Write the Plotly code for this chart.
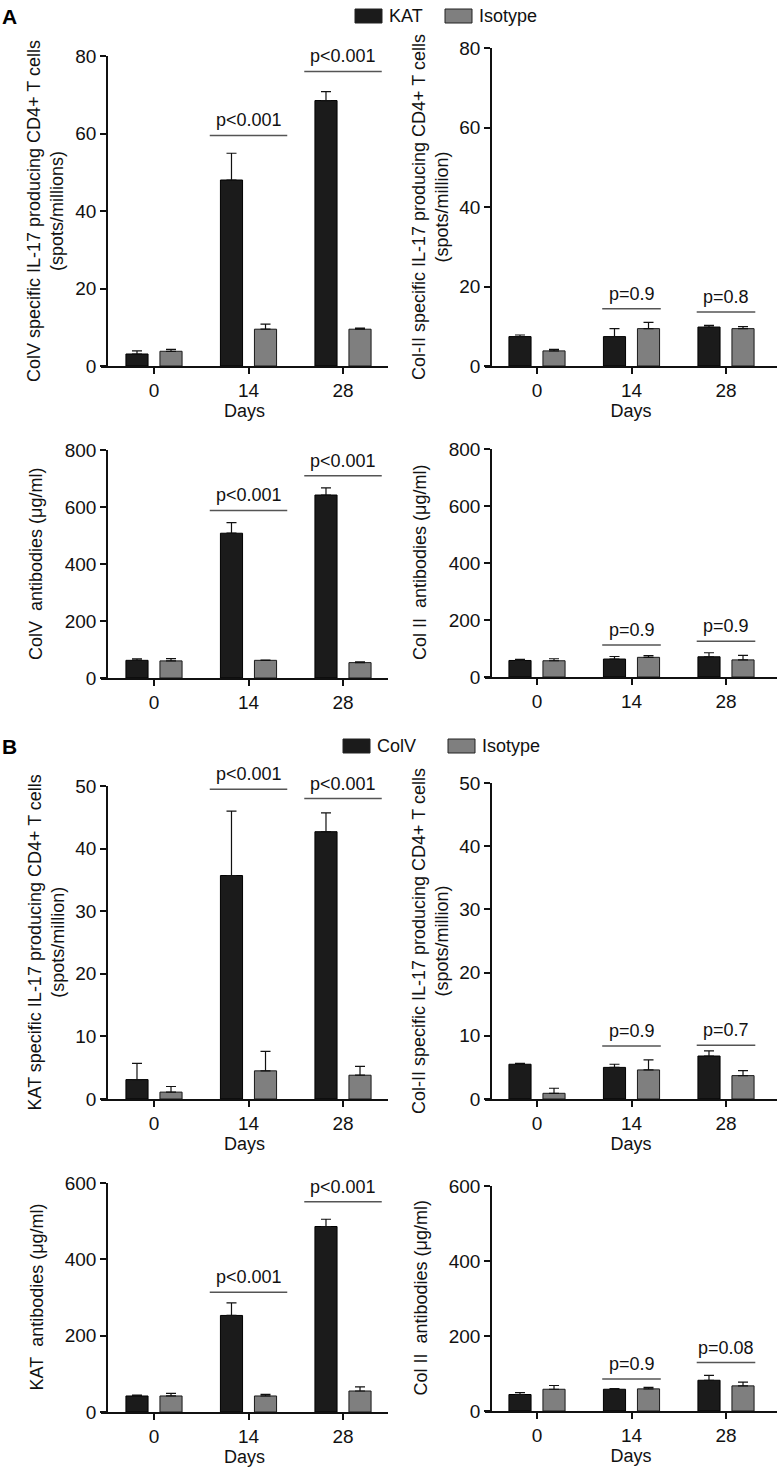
import plotly.graph_objects as go

W, H = 777, 1471
FONT = "Liberation Sans, Arial, Helvetica, sans-serif"

days = ["0", "14", "28"]

# ---------------- Panel A (KAT vs Isotype) ----------------
a1_kat = [3.1, 48.0, 68.5]
a1_kat_err = [0.8, 6.9, 2.3]
a1_iso = [3.8, 9.5, 9.5]
a1_iso_err = [0.5, 1.3, 0.3]

a2_kat = [7.4, 7.4, 9.8]
a2_kat_err = [0.4, 2.0, 0.4]
a2_iso = [3.8, 9.4, 9.4]
a2_iso_err = [0.4, 1.6, 0.5]

a3_kat = [62, 508, 642]
a3_kat_err = [5, 37, 25]
a3_iso = [60, 62, 54]
a3_iso_err = [8, 1, 3]

a4_kat = [58, 63, 71]
a4_kat_err = [4, 9, 14]
a4_iso = [57, 69, 60]
a4_iso_err = [7, 6, 16]

# ---------------- Panel B (ColV vs Isotype) ----------------
b1_colv = [3.1, 35.7, 42.7]
b1_colv_err = [2.6, 10.3, 3.0]
b1_iso = [1.1, 4.5, 3.8]
b1_iso_err = [0.9, 3.1, 1.4]

b2_colv = [5.5, 5.0, 6.8]
b2_colv_err = [0.15, 0.5, 0.8]
b2_iso = [0.9, 4.6, 3.7]
b2_iso_err = [0.8, 1.6, 0.8]

b3_colv = [42, 253, 486]
b3_colv_err = [2, 33, 19]
b3_iso = [42, 42, 55]
b3_iso_err = [7, 4, 11]

b4_colv = [44, 58, 82]
b4_colv_err = [5, 2, 13]
b4_iso = [58, 59, 67]
b4_iso_err = [10, 4, 10]

# p-value labels (None = no comparison drawn) and bracket levels (data units)
p_a1 = [None, "p<0.001", "p<0.001"]; br_a1 = [None, 59.5, 76]
p_a2 = [None, "p=0.9", "p=0.8"];     br_a2 = [None, 14.4, 13.6]
p_a3 = [None, "p<0.001", "p<0.001"]; br_a3 = [None, 588, 710]
p_a4 = [None, "p=0.9", "p=0.9"];     br_a4 = [None, 112, 125]
p_b1 = [None, "p<0.001", "p<0.001"]; br_b1 = [None, 49.5, 48]
p_b2 = [None, "p=0.9", "p=0.7"];     br_b2 = [None, 8.4, 8.5]
p_b3 = [None, "p<0.001", "p<0.001"]; br_b3 = [None, 314, 551]
p_b4 = [None, "p=0.9", "p=0.08"];    br_b4 = [None, 85, 129]

legend_a = ["KAT", "Isotype"]
legend_b = ["ColV", "Isotype"]

y_titles = [
    "ColV specific IL-17 producing CD4+ T cells<br>(spots/millions)",
    "Col-II specific IL-17 producing CD4+ T cells<br>(spots/million)",
    "ColV\u00a0 antibodies (\u03bcg/ml)",
    "Col II\u00a0 antibodies (\u03bcg/ml)",
    "KAT specific IL-17 producing CD4+ T cells<br>(spots/million)",
    "Col-II specific IL-17 producing CD4+ T cells<br>(spots/million)",
    "KAT\u00a0 antibodies (\u03bcg/ml)",
    "Col II\u00a0 antibodies (\u03bcg/ml)",
]
y_max = [80, 80, 800, 800, 50, 50, 600, 600]
y_step = [20, 20, 200, 200, 10, 10, 200, 200]
show_days = [True, True, False, False, True, True, True, True]

BLACK = "#1b1b1b"
GRAY = "#7f7f7f"

panels = [
    (legend_a, a1_kat, a1_kat_err, a1_iso, a1_iso_err, p_a1, br_a1),
    (legend_a, a2_kat, a2_kat_err, a2_iso, a2_iso_err, p_a2, br_a2),
    (legend_a, a3_kat, a3_kat_err, a3_iso, a3_iso_err, p_a3, br_a3),
    (legend_a, a4_kat, a4_kat_err, a4_iso, a4_iso_err, p_a4, br_a4),
    (legend_b, b1_colv, b1_colv_err, b1_iso, b1_iso_err, p_b1, br_b1),
    (legend_b, b2_colv, b2_colv_err, b2_iso, b2_iso_err, p_b2, br_b2),
    (legend_b, b3_colv, b3_colv_err, b3_iso, b3_iso_err, p_b3, br_b3),
    (legend_b, b4_colv, b4_colv_err, b4_iso, b4_iso_err, p_b4, br_b4),
]

# layout geometry in pixels: (x_left, x_right, y_axis_x, y_top, y_bottom)
geom = [
    (101, 388, 107, 56, 366),
    (485, 777, 491, 48, 366),
    (101, 388, 107, 450, 678),
    (485, 777, 491, 449, 677),
    (101, 388, 107, 786, 1099),
    (485, 777, 491, 783, 1099),
    (101, 388, 107, 1183, 1412),
    (485, 777, 491, 1186, 1411),
]
left_tick_px, right_tick_px, cat_px = 154, 537, 94.5


def px(x):
    return x / W


def py(y):
    return 1 - y / H


fig = go.Figure()
layout = {}
shapes = []
annotations = []
TXT = dict(color="#111", family=FONT)

for i, (names, kv, ke, iv, ie, plab, blev) in enumerate(panels):
    n = i + 1
    xa = "x" if n == 1 else f"x{n}"
    ya = "y" if n == 1 else f"y{n}"
    fig.add_trace(go.Bar(
        x=days, y=kv, name=names[0], xaxis=xa, yaxis=ya, showlegend=False,
        offsetgroup="a",
        marker=dict(color=BLACK, line=dict(color="#000000", width=1)),
        error_y=dict(type="data", symmetric=False, array=ke, arrayminus=[0, 0, 0],
                     color="#111111", thickness=1.2, width=5),
    ))
    fig.add_trace(go.Bar(
        x=days, y=iv, name=names[1], xaxis=xa, yaxis=ya, showlegend=False,
        offsetgroup="b",
        marker=dict(color=GRAY, line=dict(color="#1a1a1a", width=1)),
        error_y=dict(type="data", symmetric=False, array=ie, arrayminus=[0, 0, 0],
                     color="#111111", thickness=1.2, width=5),
    ))
    xl, xr, yx, yt, yb = geom[i]
    left_col = xl < 300
    tick0 = left_tick_px if left_col else right_tick_px
    r0 = -(tick0 - xl) / cat_px
    r1 = (xr - tick0) / cat_px
    kx = "xaxis" if n == 1 else f"xaxis{n}"
    ky = "yaxis" if n == 1 else f"yaxis{n}"
    layout[kx] = dict(
        domain=[px(xl), px(xr)], anchor=ya, type="category", range=[r0, r1],
        automargin=False,
        showline=True, linecolor="#111", linewidth=1.5, ticks="outside",
        ticklen=6, tickwidth=1.5, tickcolor="#111", showgrid=False, zeroline=False,
        tickfont=dict(size=19, **TXT),
        title=dict(text="Days" if show_days[i] else "", standoff=0,
                   font=dict(size=18, **TXT)),
        fixedrange=True,
    )
    layout[ky] = dict(
        domain=[py(yb), py(yt)], anchor="free", position=px(yx),
        range=[0, y_max[i]], tickmode="linear", tick0=0, dtick=y_step[i],
        automargin=False,
        showline=True, linecolor="#111", linewidth=1.5, ticks="outside",
        ticklen=6, tickwidth=1.5, tickcolor="#111", showgrid=False, zeroline=False,
        tickfont=dict(size=19, **TXT),
        fixedrange=True,
    )
    two_line = "<br>" in y_titles[i]
    tx = (46 if two_line else 36) + (0 if left_col else 384)
    annotations.append(dict(xref="paper", yref="paper", x=px(tx), y=py((yt + yb) / 2),
                            text=y_titles[i], textangle=-90, showarrow=False,
                            xanchor="center", yanchor="middle",
                            font=dict(size=18, **TXT)))
    half = 0.41 if left_col else 0.31
    for j, (lab, lev) in enumerate(zip(plab, blev)):
        if lab is None:
            continue
        shapes.append(dict(type="line", xref=xa, yref=ya, x0=j - half, x1=j + half,
                           y0=lev, y1=lev, line=dict(color="#555555", width=1.5)))
        annotations.append(dict(xref=xa, yref=ya, x=j, y=lev, text=lab,
                                showarrow=False, yanchor="bottom", yshift=3,
                                font=dict(size=18, **TXT)))

for letter, yc in (("A", 16), ("B", 746)):
    annotations.append(dict(xref="paper", yref="paper", x=px(9.5), y=py(yc),
                            text=f"<b>{letter}</b>", showarrow=False,
                            xanchor="center", yanchor="middle",
                            font=dict(size=21, color="#000", family=FONT)))


def add_legend(names, yc, black_x, gray_x):
    for nm, x0, col in ((names[0], black_x, BLACK), (names[1], gray_x, GRAY)):
        shapes.append(dict(type="rect", xref="paper", yref="paper",
                           x0=px(x0), x1=px(x0 + 27), y0=py(yc + 7), y1=py(yc - 7),
                           fillcolor=col, line=dict(color="#222", width=1)))
        annotations.append(dict(xref="paper", yref="paper", x=px(x0 + 32), y=py(yc),
                                text=nm, showarrow=False, xanchor="left",
                                yanchor="middle", font=dict(size=18, **TXT)))


add_legend(legend_a, 16, 355, 445)
add_legend(legend_b, 746, 343, 448)

fig.update_layout(
    width=W, height=H, margin=dict(l=0, r=0, t=0, b=0, autoexpand=False),
    paper_bgcolor="white", plot_bgcolor="white",
    barmode="group", bargap=0.28, bargroupgap=0.35,
    font=dict(family=FONT, size=18, color="#111"),
    showlegend=False,
    shapes=shapes, annotations=annotations,
    **layout,
)

fig.write_html("out.html", config={"displayModeBar": False},
               post_script="document.documentElement.style.margin='0';"
                           "document.body.style.margin='0';"
                           "document.body.style.padding='0';"
                           "document.body.style.overflow='hidden';")
